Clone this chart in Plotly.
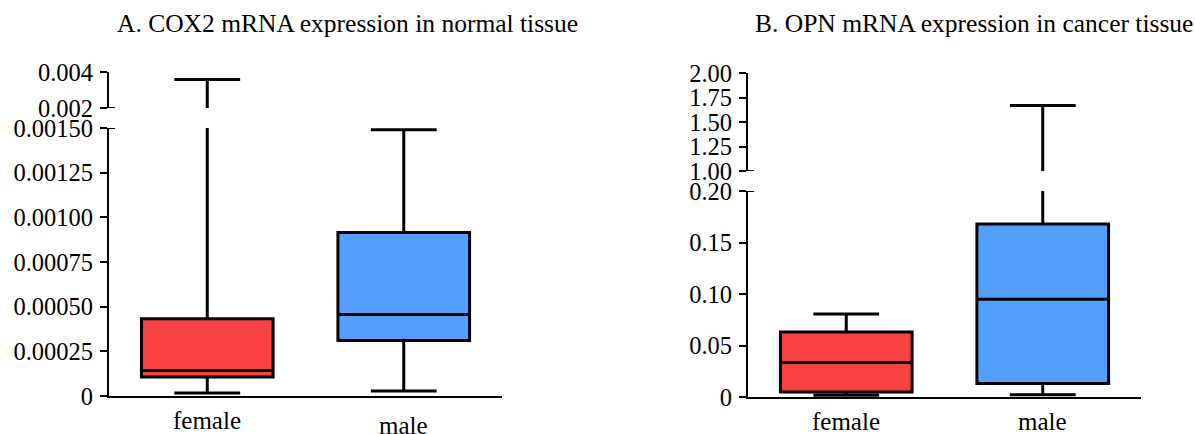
import plotly.graph_objects as go

# ---- data -------------------------------------------------------------
groups = ["female", "male"]
fills = ["#F84242", "#539FFF"]

# A. COX2 mRNA, normal tissue (box summary per group)
cox2_min = [0.0000167, 0.0000280]
cox2_q1 = [0.000106, 0.000311]
cox2_med = [0.000143, 0.000456]
cox2_q3 = [0.000432, 0.000915]
cox2_max = [0.00359, 0.00149]

# B. OPN mRNA, cancer tissue
opn_min = [0.0017, 0.0023]
opn_q1 = [0.0049, 0.0130]
opn_med = [0.0335, 0.0950]
opn_q3 = [0.0632, 0.1680]
opn_max = [0.0805, 1.669]

# broken y axes: lower and upper segment ticks
cox2_lower_ticks = [0, 0.00025, 0.0005, 0.00075, 0.001, 0.00125, 0.0015]
cox2_lower_text = ["0", "0.00025", "0.00050", "0.00075", "0.00100", "0.00125", "0.00150"]
cox2_upper_ticks = [0.002, 0.004]
cox2_upper_text = ["0.002", "0.004"]

opn_lower_ticks = [0, 0.05, 0.10, 0.15, 0.20]
opn_lower_text = ["0", "0.05", "0.10", "0.15", "0.20"]
opn_upper_ticks = [1.0, 1.25, 1.5, 1.75, 2.0]
opn_upper_text = ["1.00", "1.25", "1.50", "1.75", "2.00"]

titles = ["A. COX2 mRNA expression in normal tissue",
          "B. OPN mRNA expression in cancer tissue"]

# ---- layout helpers ---------------------------------------------------
W, H = 1195, 434
FONT = "Liberation Serif, Times New Roman, serif"


def px_x(p):
    return p / W


def px_y(p):
    return (H - p) / H


fig = go.Figure()


def add_boxes(xa, ya, mins, q1, med, q3, mx):
    for i, g in enumerate(groups):
        fig.add_trace(go.Box(
            x=[g], lowerfence=[mins[i]], q1=[q1[i]], median=[med[i]],
            q3=[q3[i]], upperfence=[mx[i]],
            fillcolor=fills[i], line=dict(color="black", width=3),
            width=0.67, whiskerwidth=0.5, boxpoints=False,
            showlegend=False, hoverinfo="skip",
            xaxis=xa, yaxis=ya,
        ))


# panel A: lower (x, y) and upper (x2, y2)
add_boxes("x", "y", cox2_min, cox2_q1, cox2_med, cox2_q3, cox2_max)
add_boxes("x2", "y2", cox2_min, cox2_q1, cox2_med, cox2_q3, cox2_max)
# panel B: lower (x3, y3) and upper (x4, y4)
add_boxes("x3", "y3", opn_min, opn_q1, opn_med, opn_q3, opn_max)
add_boxes("x4", "y4", opn_min, opn_q1, opn_med, opn_q3, opn_max)

xdomA = [px_x(109), px_x(502)]
xdomB = [px_x(748), px_x(1141)]

xcommon = dict(type="category", categoryarray=groups, range=[-0.5, 1.5],
               showgrid=False, zeroline=False, ticks="", fixedrange=True,
               automargin=False)
ycommon = dict(showgrid=False, zeroline=False, showline=True, linecolor="black",
               linewidth=2, ticks="outside", ticklen=7, tickwidth=2,
               tickcolor="black", tickfont=dict(family=FONT, size=24.5, color="black"),
               ticklabelstandoff=2, automargin=False)

fig.update_layout(
    width=W, height=H, margin=dict(l=0, r=0, t=0, b=0, pad=0, autoexpand=False),
    plot_bgcolor="white", paper_bgcolor="white",
    xaxis=dict(xcommon, domain=xdomA, anchor="y", showline=True,
               linecolor="black", linewidth=2, showticklabels=False),
    xaxis2=dict(xcommon, domain=xdomA, anchor="y2", visible=False),
    xaxis3=dict(xcommon, domain=xdomB, anchor="y3", showline=True,
                linecolor="black", linewidth=2, showticklabels=False),
    xaxis4=dict(xcommon, domain=xdomB, anchor="y4", visible=False),
    yaxis=dict(ycommon, anchor="x", domain=[px_y(396), px_y(128)],
               range=[0, 0.0015], tickvals=cox2_lower_ticks, ticktext=cox2_lower_text),
    yaxis2=dict(ycommon, anchor="x2", domain=[px_y(108), px_y(72)],
                range=[0.002, 0.004], tickvals=cox2_upper_ticks, ticktext=cox2_upper_text),
    yaxis3=dict(ycommon, anchor="x3", domain=[px_y(397), px_y(191)],
                range=[0, 0.2], tickvals=opn_lower_ticks, ticktext=opn_lower_text),
    yaxis4=dict(ycommon, anchor="x4", domain=[px_y(171), px_y(73)],
                range=[1.0, 2.0], tickvals=opn_upper_ticks, ticktext=opn_upper_text),
)

# break markers: short stubs to the right of the axis at each segment edge
for xr, yr, val in [("x domain", "y", 0.0015), ("x2 domain", "y2", 0.002),
                    ("x3 domain", "y3", 0.2), ("x4 domain", "y4", 1.0)]:
    fig.add_shape(type="line", xref=xr, yref=yr, x0=0, x1=6 / 393, y0=val, y1=val,
                  line=dict(color="black", width=2))

# panel titles
for txt, xp in zip(titles, [115, 753]):
    fig.add_annotation(text=txt, xref="paper", yref="paper", x=px_x(xp), y=px_y(24),
                       xanchor="left", yanchor="middle", showarrow=False,
                       font=dict(family=FONT, size=25.5, color="black"))

# category labels under each x axis
label_rows = [("x", [420, 425]), ("x3", [421, 421])]
for xa, ys in label_rows:
    for g, yp in zip(groups, ys):
        fig.add_annotation(text=g, xref=xa, yref="paper", x=g, y=px_y(yp),
                           xanchor="center", yanchor="middle", showarrow=False,
                           font=dict(family=FONT, size=25, color="black"))

fig.write_html("out.html")
